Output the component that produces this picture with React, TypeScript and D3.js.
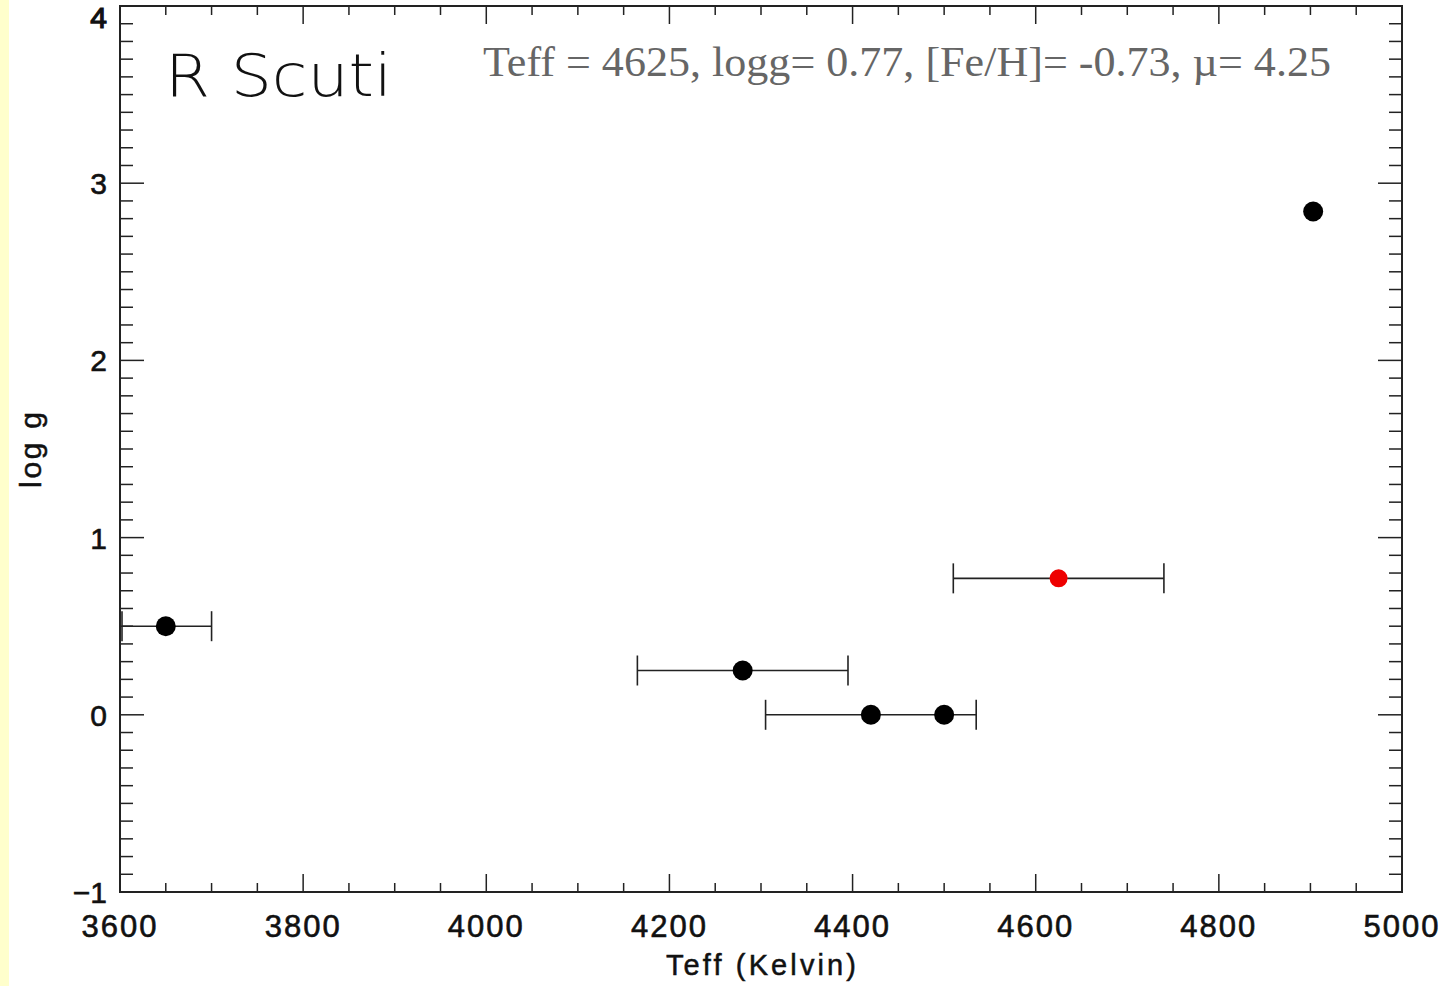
import React from "react";
import * as d3 from "d3";

const teff = [3650, 4280, 4420, 4500, 4625, 4903];
const logg = [0.5, 0.25, 0.0, 0.0, 0.77, 2.84];
const teffErr = [50, 115, 115, 0, 115, 0];
const highlight = [false, false, false, false, true, false];
const xTicks = [3600, 3800, 4000, 4200, 4400, 4600, 4800, 5000];
const yTicks = [-1, 0, 1, 2, 3, 4];
const title = "R  Scuti";
const annotation = "Teff = 4625, logg= 0.77, [Fe/H]= -0.73, \u00b5= 4.25";

export default function App() {
  const W = 1447, H = 986;
  const L = 120, R = 1402, T = 6, B = 892;
  const x = d3.scaleLinear().domain([3600, 5000]).range([L, R]);
  const y = d3.scaleLinear().domain([-1, 4]).range([B, T]);
  const xMinor = d3.range(3600, 5001, 50);
  const yMinor = d3.range(-10, 41).map((v) => v / 10);
  const frame = "#222";
  const sans = "'Liberation Sans', Arial, sans-serif";
  return (
    <svg width={W} height={H} style={{ position: "absolute", left: 0, top: 0 }}>
      <rect x={0} y={0} width={W} height={H} fill="#fff" />
      <rect x={0} y={0} width={9} height={H} fill="#ffffcc" />
      {xMinor.map((v, i) => (
        <g key={"xm" + i} stroke={frame} strokeWidth={1.5}>
          <line x1={x(v)} x2={x(v)} y1={B} y2={B - (v % 200 === 0 ? 18 : 9)} />
          <line x1={x(v)} x2={x(v)} y1={T} y2={T + (v % 200 === 0 ? 18 : 9)} />
        </g>
      ))}
      {yMinor.map((v, i) => {
        const major = Math.abs(v - Math.round(v)) < 1e-6;
        return (
          <g key={"ym" + i} stroke={frame} strokeWidth={1.5}>
            <line x1={L} x2={L + (major ? 24 : 13)} y1={y(v)} y2={y(v)} />
            <line x1={R} x2={R - (major ? 24 : 13)} y1={y(v)} y2={y(v)} />
          </g>
        );
      })}
      <rect x={L} y={T} width={R - L} height={B - T} fill="none" stroke={frame} strokeWidth={2} />
      {xTicks.map((v) => (
        <text key={"xt" + v} x={x(v)} y={937} textAnchor="middle" fontFamily={sans}
          fontSize={31} letterSpacing={2} fill="#111" stroke="#111" strokeWidth={0.6}>{v}</text>
      ))}
      {yTicks.map((v) => (
        <text key={"yt" + v} x={107} y={Math.max(y(v) + 11, 28)} textAnchor="end" fontFamily={sans}
          fontSize={30} fill="#111" stroke="#111" strokeWidth={v === 4 ? 1.2 : 0.6}>{v < 0 ? "\u2212" + Math.abs(v) : v}</text>
      ))}
      <text x={666} y={975} fontFamily={sans} fontSize={29} textLength={190} lengthAdjust="spacing"
        fill="#111" stroke="#111" strokeWidth={0.5}>{"Teff  (Kelvin)"}</text>
      <text transform="translate(41,488) rotate(-90)" fontFamily={sans} fontSize={30}
        textLength={76} lengthAdjust="spacing" fill="#111" stroke="#111" strokeWidth={0.5}>{"log  g"}</text>
      {teff.map((t, i) => {
        if (!teffErr[i]) return null;
        const x0 = Math.max(x(t - teffErr[i]), L + 2);
        const x1 = x(t + teffErr[i]);
        const yy = y(logg[i]);
        return (
          <g key={"e" + i} stroke="#222" strokeWidth={1.6}>
            <line x1={x0} x2={x1} y1={yy} y2={yy} />
            <line x1={x0} x2={x0} y1={yy - 15} y2={yy + 15} />
            <line x1={x1} x2={x1} y1={yy - 15} y2={yy + 15} />
          </g>
        );
      })}
      {teff.map((t, i) => (
        <circle key={"p" + i} cx={x(t)} cy={y(logg[i])} r={highlight[i] ? 9 : 10}
          fill={highlight[i] ? "#ee0000" : "#000"} />
      ))}
      <text x={165} y={96} fontFamily="'DejaVu Sans', sans-serif" fontWeight={200} fontSize={58}
        textLength={227} lengthAdjust="spacingAndGlyphs" fill="#111">{title}</text>
      <text x={483} y={76} fontFamily="'Liberation Serif', 'DejaVu Serif', serif" fontSize={42}
        textLength={848} lengthAdjust="spacingAndGlyphs" fill="#666">{annotation}</text>
    </svg>
  );
}
